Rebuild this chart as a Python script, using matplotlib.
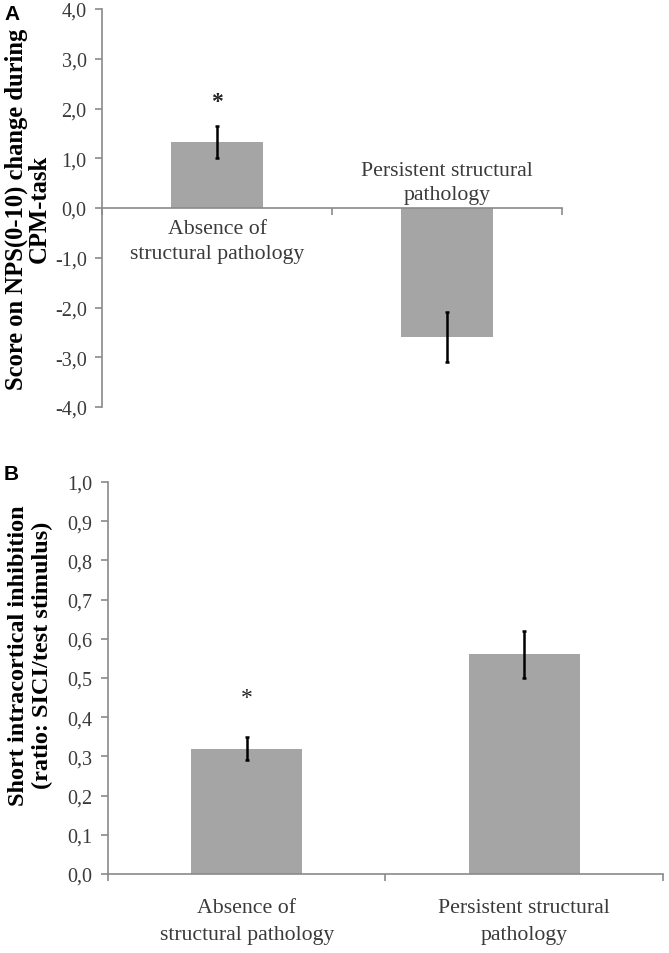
import matplotlib
matplotlib.use("Agg")
import matplotlib.pyplot as plt
from matplotlib.ticker import FuncFormatter

# panel A: NPS change during CPM-task
groups_a = ["Absence of\nstructural pathology", "Persistent structural\npathology"]
nps_change = [1.32, -2.6]
nps_err = [0.32, 0.5]
nps_star = [2.15, None]

# panel B: SICI ratio
groups_b = ["Absence of\nstructural pathology", "Persistent structural\npathology"]
sici_ratio = [0.32, 0.56]
sici_err = [0.03, 0.06]
sici_star = [0.45, None]

BAR = "#a5a5a5"
AXIS = "#8a8a8a"
TXT = "#3a3a3a"
SERIF = ["Liberation Serif", "DejaVu Serif"]

plt.rcParams["font.family"] = SERIF

comma = FuncFormatter(lambda v, _: f"{v:.1f}".replace(".", ","))

fig = plt.figure(figsize=(6.69, 9.54), dpi=100)
ax_a = fig.add_axes([0.1525, 0.5723, 0.6875, 0.4172])
ax_b = fig.add_axes([0.1614, 0.0828, 0.8296, 0.4109])


def style(ax):
    for s in ["top", "right"]:
        ax.spines[s].set_visible(False)
    for s in ["left", "bottom"]:
        ax.spines[s].set_color(AXIS)
        ax.spines[s].set_linewidth(1.2)
    ax.tick_params(axis="y", colors=AXIS, labelcolor=TXT, labelsize=14.5,
                   length=5, width=1.2, direction="out", pad=6)
    ax.yaxis.set_major_formatter(comma)
    ax.set_xlim(-0.5, 1.5)
    ax.set_xticks([-0.5, 0.5, 1.5], minor=True)
    ax.tick_params(axis="x", which="minor", colors=AXIS, length=5,
                   width=1.2, direction="out")


# --- A ---
x = range(len(nps_change))
ax_a.bar(x, nps_change, width=0.4, color=BAR, zorder=2)
ax_a.errorbar(x, nps_change, yerr=nps_err, fmt="none", ecolor="black",
              elinewidth=1.8, capsize=1.5, capthick=1.8, zorder=3)
style(ax_a)
ax_a.set_ylim(-4, 4)
ax_a.set_yticks([-4, -3, -2, -1, 0, 1, 2, 3, 4])
ax_a.spines["bottom"].set_position(("data", 0))
ax_a.set_xticks([])
for i, (lab, v) in enumerate(zip(groups_a, nps_change)):
    if v >= 0:
        ax_a.annotate(lab, xy=(i, 0), xytext=(0, -8), textcoords="offset points",
                      ha="center", va="top", fontsize=15.7, color=TXT, linespacing=1.45)
    else:
        ax_a.annotate(lab, xy=(i, 0), xytext=(0, 3), textcoords="offset points",
                      ha="center", va="bottom", fontsize=15.7, color=TXT, linespacing=1.35)
for i, s in enumerate(nps_star):
    if s is not None:
        ax_a.text(i, s, "*", ha="center", va="center", fontsize=17,
                  fontweight="bold", color="#222222")
ax_a.set_ylabel("Score on NPS(0-10) change during\nCPM-task", fontsize=17.7,
                fontweight="bold", color="black", linespacing=1.0, labelpad=3)

# --- B ---
x = range(len(sici_ratio))
ax_b.bar(x, sici_ratio, width=0.4, color=BAR, zorder=2)
ax_b.errorbar(x, sici_ratio, yerr=sici_err, fmt="none", ecolor="black",
              elinewidth=1.8, capsize=1.5, capthick=1.8, zorder=3)
style(ax_b)
ax_b.set_ylim(0, 1)
ax_b.set_yticks([i / 10 for i in range(11)])
ax_b.set_xticks([0, 1], groups_b)
ax_b.tick_params(axis="x", which="major", length=0, pad=17, labelsize=15.7,
                 labelcolor=TXT)
for lab in ax_b.get_xticklabels():
    lab.set_linespacing(1.62)
for i, s in enumerate(sici_star):
    if s is not None:
        ax_b.text(i, s, "*", ha="center", va="center", fontsize=17,
                  color="#222222")
ax_b.set_ylabel("Short intracortical inhibition\n(ratio: SICI/test stimulus)",
                fontsize=17.5, fontweight="bold", color="black", linespacing=1.15)
ax_b.yaxis.set_label_coords(-0.099, 0.56)

fig.text(0.006, 0.985, "A", fontsize=15, fontweight="bold",
         family=["Liberation Sans", "DejaVu Sans"], va="center")
fig.text(0.006, 0.503, "B", fontsize=15, fontweight="bold",
         family=["Liberation Sans", "DejaVu Sans"], va="center")

fig.savefig("out.png", dpi=100)
